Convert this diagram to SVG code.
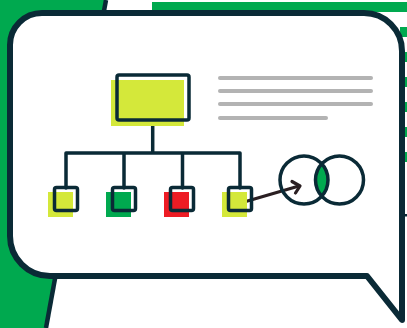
<svg xmlns="http://www.w3.org/2000/svg" width="407" height="328" viewBox="0 0 407 328">
<style>
.g{fill:#00a94f}
.dk{stroke:#0a2a36;fill:none;stroke-width:3.5;stroke-linejoin:round;stroke-linecap:round}
.box{fill:none;stroke:#0a2a36;stroke-width:3.5}
.gl{stroke:#b3b3b3;stroke-width:4;stroke-linecap:round}
</style>
<g id="background">
<path class="g" d="M0,0 H106 L46,328 H0 Z"/>
<path d="M106,0 L46,328" stroke="#0a2a36" stroke-width="4.5" fill="none"/>
<rect class="g" x="152" y="2" width="255" height="10"/>
<rect class="g" x="400" y="27" width="7" height="10"/>
<rect class="g" x="400" y="52" width="7" height="10"/>
<rect class="g" x="400" y="77" width="7" height="10"/>
<rect class="g" x="400" y="102" width="7" height="10"/>
<rect class="g" x="400" y="127" width="7" height="10"/>
<rect class="g" x="400" y="152" width="7" height="10"/>
<rect x="400" y="214" width="7" height="2.5" fill="#0a2a36"/>
</g>
<g id="bubble">
<path d="M42,13 H364 A38,38 0 0 1 402,51 V320 L367,276 H50 A40,40 0 0 1 10,236 V45 A32,32 0 0 1 42,13 Z" fill="#ffffff" stroke="#0a2a36" stroke-width="6" stroke-linejoin="round"/>
</g>
<g id="text-lines">
<line class="gl" x1="220" y1="78" x2="371" y2="78"/>
<line class="gl" x1="220" y1="91" x2="371" y2="91"/>
<line class="gl" x1="220" y1="104" x2="371" y2="104"/>
<line class="gl" x1="220" y1="118" x2="326" y2="118"/>
</g>
<g id="connectors">
<path class="dk" d="M152.7,122 V153 M66,153 H240 M66,153 V188 M124,153 V188 M182.5,153 V188 M240,153 V188"/>
<g stroke="#2a1f22" stroke-width="3.2" fill="none" stroke-linecap="round" stroke-linejoin="round">
<line x1="244" y1="202" x2="299" y2="186"/>
<polyline points="292,181.5 300,186 295.5,193"/>
</g>
</g>
<g id="root">
<rect x="111" y="80" width="73" height="46" fill="#d4e83a"/>
<rect class="box" x="117" y="75" width="72" height="45" rx="2"/>
</g>
<g id="child1">
<rect x="48" y="192" width="25" height="25" fill="#d4e83a"/>
<rect class="box" x="54.5" y="187.5" width="23" height="23" rx="2"/>
</g>
<g id="child2">
<rect x="106" y="192" width="25" height="25" fill="#00a94f"/>
<rect class="box" x="112.5" y="187.5" width="23" height="23" rx="2"/>
</g>
<g id="child3">
<rect x="164" y="192" width="25" height="25" fill="#ed1c24"/>
<rect class="box" x="170.5" y="187.5" width="23" height="23" rx="2"/>
</g>
<g id="child4">
<rect x="222" y="192" width="25" height="25" fill="#d4e83a"/>
<rect class="box" x="228.5" y="187.5" width="23" height="23" rx="2"/>
</g>
<g id="venn">
<path d="M321.75,163.8 A24,24 0 0 1 321.75,196.2 A24,24 0 0 1 321.75,163.8 Z" fill="#00a94f"/>
<circle cx="304" cy="180" r="24" class="dk"/>
<circle cx="339.5" cy="180" r="24" class="dk"/>
</g>
</svg>
